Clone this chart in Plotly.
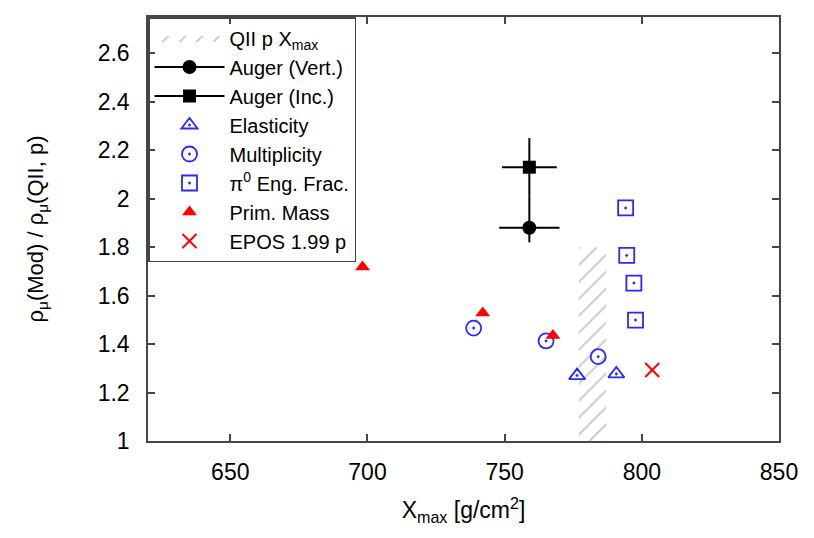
import plotly.graph_objects as go

# ---- data ----
band_x = [777, 787]          # QII p Xmax band (x extent)
band_y = [1.0, 1.8]          # band y extent

auger_vert_x = [759]
auger_vert_y = [1.88]
auger_vert_ex = [11]
auger_vert_ey_plus = [0.13]
auger_vert_ey_minus = [0.06]

auger_inc_x = [759]
auger_inc_y = [2.13]
auger_inc_ex = [10]
auger_inc_ey = [0.12]

elast_x = [776.4, 790.7]
elast_y = [1.27, 1.277]

mult_x = [738.7, 765.1, 784.1]
mult_y = [1.466, 1.413, 1.348]

pi0_x = [794.1, 794.5, 797.1, 797.7]
pi0_y = [1.962, 1.766, 1.652, 1.499]

prim_x = [698.2, 742.0, 767.6]
prim_y = [1.718, 1.528, 1.435]

epos_x = [803.8]
epos_y = [1.293]

x_ticks = [650, 700, 750, 800, 850]
y_ticks = [1, 1.2, 1.4, 1.6, 1.8, 2, 2.2, 2.4, 2.6]
y_tick_text = ["1", "1.2", "1.4", "1.6", "1.8", "2", "2.2", "2.4", "2.6"]

BLUE = "rgb(40,40,255)"
RED = "rgb(255,0,0)"
FONT = "Liberation Sans, Arial, Helvetica, sans-serif"

fig = go.Figure()

# hatched band
fig.add_trace(go.Scatter(
    x=[band_x[0], band_x[1], band_x[1], band_x[0], band_x[0]],
    y=[band_y[0], band_y[0], band_y[1], band_y[1], band_y[0]],
    mode="lines", fill="toself",
    line=dict(width=0, color="rgba(150,150,150,1)"),
    fillcolor="white",
    fillpattern=dict(shape="/", fgcolor="rgb(140,140,140)", bgcolor="white",
                     size=12, solidity=0.15),
    name="QII p X<sub>max</sub>", hoverinfo="skip",
))

fig.add_trace(go.Scatter(
    x=auger_vert_x, y=auger_vert_y, mode="lines+markers",
    marker=dict(symbol="circle", size=14, color="black"),
    line=dict(color="black", width=2),
    error_x=dict(type="data", array=auger_vert_ex, color="black", thickness=2, width=0),
    error_y=dict(type="data", array=auger_vert_ey_plus, arrayminus=auger_vert_ey_minus,
                 symmetric=False, color="black", thickness=2, width=0),
    name="Auger (Vert.)",
))

fig.add_trace(go.Scatter(
    x=auger_inc_x, y=auger_inc_y, mode="lines+markers",
    marker=dict(symbol="square", size=13, color="black"),
    line=dict(color="black", width=2),
    error_x=dict(type="data", array=auger_inc_ex, color="black", thickness=2, width=0),
    error_y=dict(type="data", array=auger_inc_ey, color="black", thickness=2, width=0),
    name="Auger (Inc.)",
))

fig.add_trace(go.Scatter(
    x=elast_x, y=elast_y, mode="markers",
    marker=dict(symbol="triangle-up-open-dot", size=14, color=BLUE, line=dict(width=1.8)),
    name="Elasticity",
))

fig.add_trace(go.Scatter(
    x=mult_x, y=mult_y, mode="markers",
    marker=dict(symbol="circle-open-dot", size=15, color=BLUE, line=dict(width=1.8)),
    name="Multiplicity",
))

fig.add_trace(go.Scatter(
    x=pi0_x, y=pi0_y, mode="markers",
    marker=dict(symbol="square-open-dot", size=15, color=BLUE, line=dict(width=1.8)),
    name="π<sup>0</sup> Eng. Frac.",
))

fig.add_trace(go.Scatter(
    x=prim_x, y=prim_y, mode="markers",
    marker=dict(symbol="triangle-up", size=13, color=RED),
    name="Prim. Mass",
))

fig.add_trace(go.Scatter(
    x=epos_x, y=epos_y, mode="markers",
    marker=dict(symbol="x-thin-open", size=14, color=RED, line=dict(width=2, color=RED)),
    name="EPOS 1.99 p",
))

axis_common = dict(
    showline=True, linecolor="rgb(70,70,70)", linewidth=1.5, mirror="ticks",
    ticks="inside", ticklen=7, tickwidth=1.5, tickcolor="rgb(70,70,70)",
    showgrid=False, zeroline=False, automargin=False,
    tickfont=dict(family=FONT, size=23, color="black"),
)

fig.update_layout(
    width=806, height=530,
    margin=dict(l=140, r=35, t=9, b=97),
    paper_bgcolor="white", plot_bgcolor="white",
    font=dict(family=FONT, color="black"),
    xaxis=dict(range=[620, 850], tickvals=x_ticks, ticklabelstandoff=10,
               title=dict(text="X<sub>max</sub> [g/cm<sup>2</sup>]",
                          font=dict(family=FONT, size=23), standoff=18),
               **axis_common),
    yaxis=dict(range=[1, 2.75], tickvals=y_ticks, ticktext=y_tick_text, ticklabelstandoff=12,
               title=dict(text="ρ<sub>μ</sub>(Mod) / ρ<sub>μ</sub>(QII, p)",
                          font=dict(family=FONT, size=22), standoff=48),
               **axis_common),
    legend=dict(x=0, y=1, xanchor="left", yanchor="top",
                bgcolor="rgba(255,255,255,0)", bordercolor="rgb(70,70,70)", borderwidth=1.5,
                font=dict(family=FONT, size=20, color="black"),
                itemwidth=70, tracegroupgap=0, traceorder="normal"),
    showlegend=True,
)

fig.write_html("out.html")
